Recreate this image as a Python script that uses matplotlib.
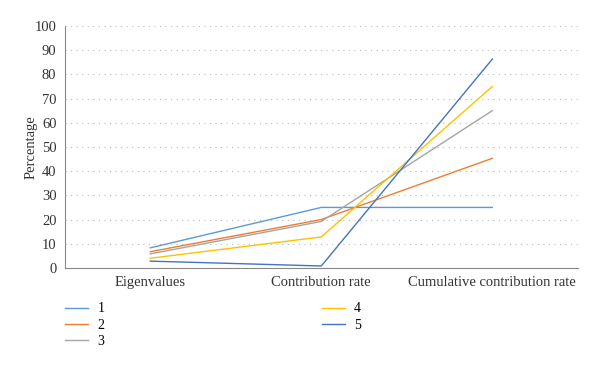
import numpy as np
import matplotlib.pyplot as plt

plt.rcParams['font.family'] = ['Liberation Serif', 'DejaVu Serif']

categories = ["Eigenvalues", "Contribution rate", "Cumulative contribution rate"]
series_names = ["1", "2", "3", "4", "5"]
s1 = [8.3, 25.0, 25.0]
s2 = [6.7, 20.0, 45.3]
s3 = [5.8, 19.2, 65.0]
s4 = [4.0, 12.8, 75.0]
s5 = [2.8, 0.8, 86.3]
colors = ["#5B9BD5", "#ED7D31", "#A5A5A5", "#FFC000", "#4472C4"]

fig = plt.figure(figsize=(6, 3.66), dpi=100)
ax = fig.add_axes([0.108, 0.268, 0.855, 0.661])

x = np.arange(len(categories)) + 0.5
for vals, name, c in zip([s1, s2, s3, s4, s5], series_names, colors):
    ax.plot(x, vals, color=c, lw=1.0, label=name)

ax.set_xlim(0, 3)
ax.set_ylim(0, 100)
ax.set_xticks(x)
ax.set_xticklabels(categories, fontsize=10.5, color='#333333')
ax.set_yticks(np.arange(0, 101, 10))
ax.tick_params(axis='y', labelsize=10.5, colors='#333333', length=0, pad=6)
ax.tick_params(axis='x', length=0, pad=6)
ax.yaxis.grid(True, linestyle=(0, (1, 4)), color='#bbbbbb', lw=0.8)
ax.set_axisbelow(True)
for s in ['top', 'right']:
    ax.spines[s].set_visible(False)
ax.spines['left'].set_color('#888888')
ax.spines['bottom'].set_color('#888888')
ax.set_ylabel("Percentage", fontsize=10.5, color='#333333', labelpad=-2)

fig.legend(loc='upper left', bbox_to_anchor=(0.088, 0.208), ncol=2, frameon=False,
           fontsize=10, handlelength=1.6, columnspacing=15.7, labelspacing=0.25,
           handletextpad=0.7)

fig.savefig("out.png", dpi=100)
